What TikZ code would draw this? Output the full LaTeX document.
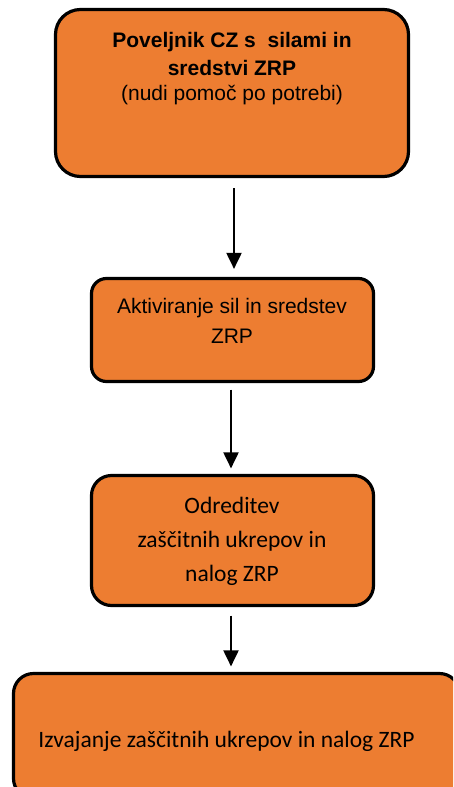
\documentclass[tikz,border=0pt]{standalone}
\usepackage{fontspec}
\setmainfont{Liberation Sans}
\newfontfamily\calibrifont{Carlito}
\usetikzlibrary{arrows.meta}
\definecolor{boxorange}{RGB}{237,125,49}
\begin{document}
\begin{tikzpicture}[x=1pt,y=-1pt,
  box/.style={draw=black, line width=3.2pt, fill=boxorange, rectangle, inner sep=0pt},
  flow/.style={line width=2pt, -{Triangle[width=15pt,length=16pt]}},
  lbl/.style={inner sep=0pt, align=center, anchor=base, text=black}]
\useasboundingbox (0,0) rectangle (453,787);
\clip (0,0) rectangle (453,787);

% the four steps of the procedure
\node[box, rounded corners=25pt, minimum width=353pt, minimum height=167pt] (box1) at (232,93) {};
\node[box, rounded corners=15pt, minimum width=282pt, minimum height=103pt] (box2) at (232.5,330) {};
\node[box, rounded corners=20pt, minimum width=282pt, minimum height=130pt] (box3) at (232.5,540.5) {};
\node[box, rounded corners=20pt, minimum width=446pt, minimum height=125pt] (box4) at (236.5,736) {};

% texts, placed by the baseline of their last line
\node[lbl, font=\fontsize{21}{28}\selectfont\bfseries] (t1) at (232,100)
  {Poveljnik CZ s\ \ silami in\\ sredstvi ZRP\\[-3pt] {\mdseries (nudi pomoč po potrebi)}};
\node[lbl, font=\fontsize{21}{30}\selectfont] (t2) at (232,343)
  {Aktiviranje sil in sredstev\\ ZRP};
\node[lbl, font=\calibrifont\fontsize{23.5}{34}\selectfont] (t3) at (232,581)
  {Odreditev\\ zaščitnih ukrepov in\\ nalog ZRP};
\node[lbl, font=\calibrifont\fontsize{23.5}{28}\selectfont] (t4) at (226.5,747)
  {Izvajanje zaščitnih ukrepov in nalog ZRP};

% vertical columns of the connectors
\coordinate (c1) at (234,0);
\coordinate (c2) at (231,0);

% connectors
\draw[flow, shorten <=10pt, shorten >=8pt] (box1.south -| c1) -- (box2.north -| c1);
\draw[flow, shorten <=6.5pt, shorten >=5.5pt] (box2.south -| c2) -- (box3.north -| c2);
\draw[flow, shorten <=8.5pt, shorten >=5.5pt] (box3.south -| c2) -- (box4.north -| c2);
\end{tikzpicture}
\end{document}
